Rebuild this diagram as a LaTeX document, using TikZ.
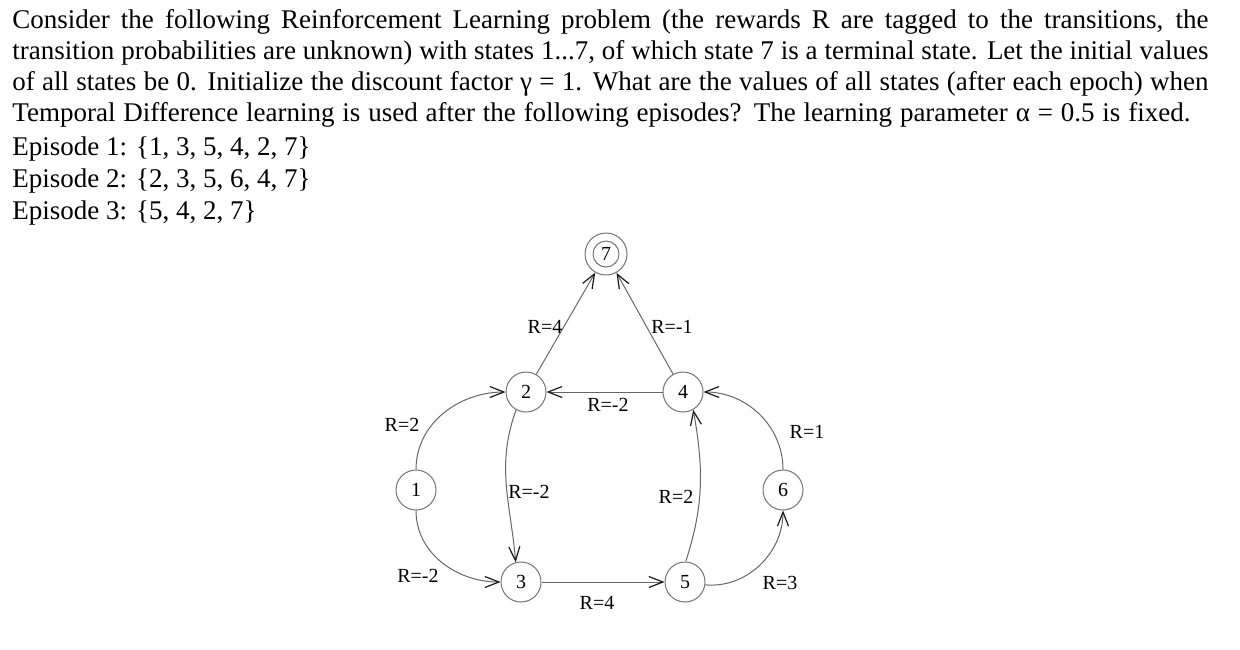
\documentclass[tikz,border=0pt]{standalone}
\usepackage{fontspec}
\setmainfont{Liberation Serif}
\usetikzlibrary{arrows.meta}
\begin{document}
\begin{tikzpicture}[x=0.5pt,y=-0.5pt,
  txt/.style={anchor=base west,inner sep=0pt,font=\fontsize{13.5}{15.5}\selectfont},
  state/.style={circle,draw=black!55,line width=0.5pt,minimum size=20pt,inner sep=0pt,font=\fontsize{10}{12}\selectfont},
  lab/.style={inner sep=0pt,font=\fontsize{10}{12}\selectfont},
  arr/.style={draw=black!60,line width=0.5pt,-{Straight Barb[length=7pt,width=5.5pt,line width=0.6pt,black!90]}}]
\useasboundingbox (0,0) rectangle (1240,649);
% text
\node[txt] (l1) at (12,28) {\makebox[598pt][s]{Consider the following Reinforcement Learning problem (the rewards R are tagged to the transitions, the}};
\node[txt] (l2) at (12,59) {\makebox[598pt][s]{transition probabilities are unknown) with states 1...7, of which state 7 is a terminal state. Let the initial values}};
\node[txt] (l3) at (12,90) {\makebox[598pt][s]{of all states be 0. Initialize the discount factor γ = 1. What are the values of all states (after each epoch) when}};
\node[txt] (l4) at (12,121) {\makebox[589pt][s]{Temporal Difference learning is used after the following episodes? The learning parameter α = 0.5 is fixed.}};
\node[txt] (e1) at (12,155) {Episode 1: \{1, 3, 5, 4, 2, 7\}};
\node[txt] (e2) at (12,187) {Episode 2: \{2, 3, 5, 6, 4, 7\}};
\node[txt] (e3) at (12,219) {Episode 3: \{5, 4, 2, 7\}};
% states
\node[state,minimum size=21pt] (n7) at (606,254) {7};
\draw[black!55,line width=0.5pt] (n7) circle[radius=6.5pt];
\node[state] (n2) at (526,392) {2};
\node[state] (n4) at (683,392) {4};
\node[state] (n1) at (416,490) {1};
\node[state] (n6) at (783,490) {6};
\node[state] (n3) at (521,582) {3};
\node[state] (n5) at (685,582) {5};
% edges
\draw[arr] (n2) -- (n7);
\draw[arr] (n4) -- (n7);
\draw[arr] (n4) -- (n2);
\draw[arr] (n3) -- (n5);
\draw[arr] (n1.north) to[out=90,in=180] (n2.west);
\draw[arr] (n1.south) to[out=-90,in=180] (n3.west);
\draw[arr] (n2.241) to[out=250,in=95] (n3.105);
\draw[arr] (n5.88) to[out=72,in=-80] (n4.-60);
\draw[arr] (n5.-8) to[out=-5,in=-90] (n6.south);
\draw[arr] (n6.north) to[out=90,in=0] (n4.east);
% labels
\node[lab] (r24) at (545,327) {R=4};
\node[lab] (r47) at (672,327) {R=-1};
\node[lab] (r42) at (608,405) {R=-2};
\node[lab] (r12) at (402,425) {R=2};
\node[lab] (r64) at (807,432) {R=1};
\node[lab] (r23) at (529,492) {R=-2};
\node[lab] (r54) at (676,497) {R=2};
\node[lab] (r13) at (418,576) {R=-2};
\node[lab] (r35) at (597,603) {R=4};
\node[lab] (r56) at (780,583) {R=3};
\end{tikzpicture}
\end{document}
